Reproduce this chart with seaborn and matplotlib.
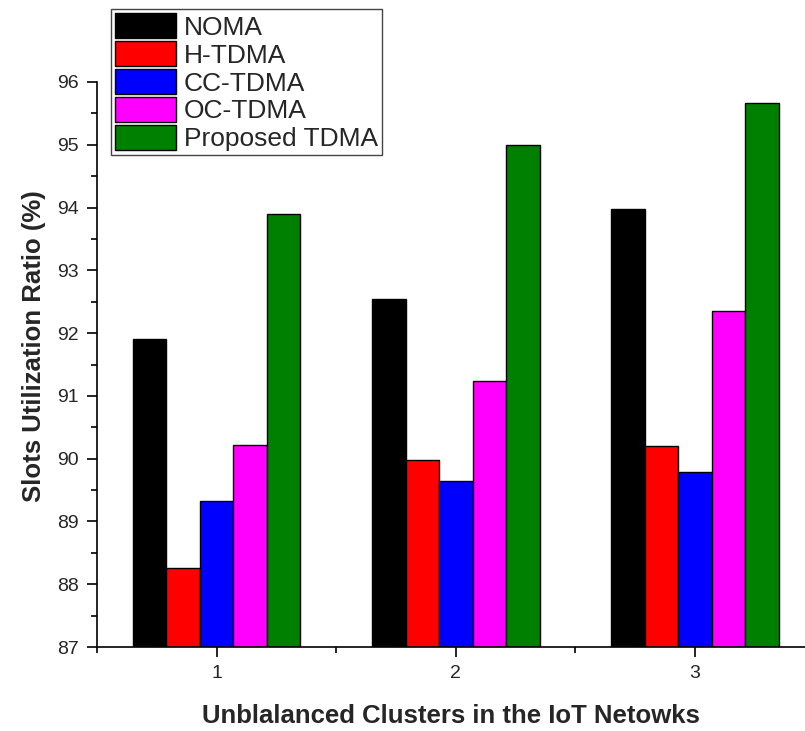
import matplotlib
matplotlib.use("Agg")
import matplotlib.pyplot as plt
import seaborn as sns
import pandas as pd
from matplotlib.ticker import MultipleLocator, FixedLocator

groups = ["1", "2", "3"]
schemes = ["NOMA", "H-TDMA", "CC-TDMA", "OC-TDMA", "Proposed TDMA"]
noma = [91.9, 92.54, 93.98]
h_tdma = [88.26, 89.98, 90.2]
cc_tdma = [89.32, 89.65, 89.78]
oc_tdma = [90.21, 91.24, 92.35]
proposed = [93.9, 95.0, 95.66]
colors = ["#000000", "#FF0000", "#0000FF", "#FF00FF", "#008000"]

series = [noma, h_tdma, cc_tdma, oc_tdma, proposed]
rows = []
for name, vals in zip(schemes, series):
    for g, v in zip(groups, vals):
        rows.append({"group": g, "scheme": name, "value": v})
df = pd.DataFrame(rows)

sns.set_style("ticks")
plt.rcParams['font.family'] = ['Liberation Sans', 'DejaVu Sans']

fig = plt.figure(figsize=(8.05, 7.31), dpi=100)
ax = fig.add_axes([97/805, 1 - 647/731, 1 - 97/805, (647 - 82)/731])

sns.barplot(data=df, x="group", y="value", hue="scheme", order=groups,
            hue_order=schemes, palette=colors, width=0.7, dodge=True,
            edgecolor="black", linewidth=1.0, saturation=1, ax=ax, legend=True)

ax.set_ylim(87, 96)
ax.set_xlim(-0.5, 2.46)
ax.yaxis.set_major_locator(MultipleLocator(1))
ax.yaxis.set_minor_locator(MultipleLocator(0.5))
ax.xaxis.set_minor_locator(FixedLocator([-0.5, 0.5, 1.5]))
ax.tick_params(axis='both', which='major', direction='out', length=7, width=1.2,
               labelsize=14, color='black', pad=6)
ax.tick_params(axis='both', which='minor', direction='out', length=4.5, width=1.2,
               color='black')
for s in ['top', 'right']:
    ax.spines[s].set_visible(False)
for s in ['left', 'bottom']:
    ax.spines[s].set_linewidth(1.2)
    ax.spines[s].set_color('black')

ax.set_xlabel("Unblalanced Clusters in the IoT Netowks", fontsize=18.5,
              fontweight='bold', labelpad=16)
ax.set_ylabel("Slots Utilization Ratio (%)", fontsize=18.5, fontweight='bold')
ax.yaxis.set_label_coords(-0.072, 0.533)

handles, labels = ax.get_legend_handles_labels()
ax.get_legend().remove()
leg = fig.legend(handles, labels, loc='upper left',
                 bbox_to_anchor=(111/805, 1 - 9/731), fontsize=19, frameon=True,
                 fancybox=False, shadow=False, handlelength=2.3,
                 handleheight=1.1, labelspacing=0.05, handletextpad=0.3,
                 borderpad=0.15, borderaxespad=0.0)
leg.get_frame().set_edgecolor('#444444')
leg.get_frame().set_linewidth(1.0)
leg.get_frame().set_alpha(1)

fig.savefig("out.png", dpi=100)
